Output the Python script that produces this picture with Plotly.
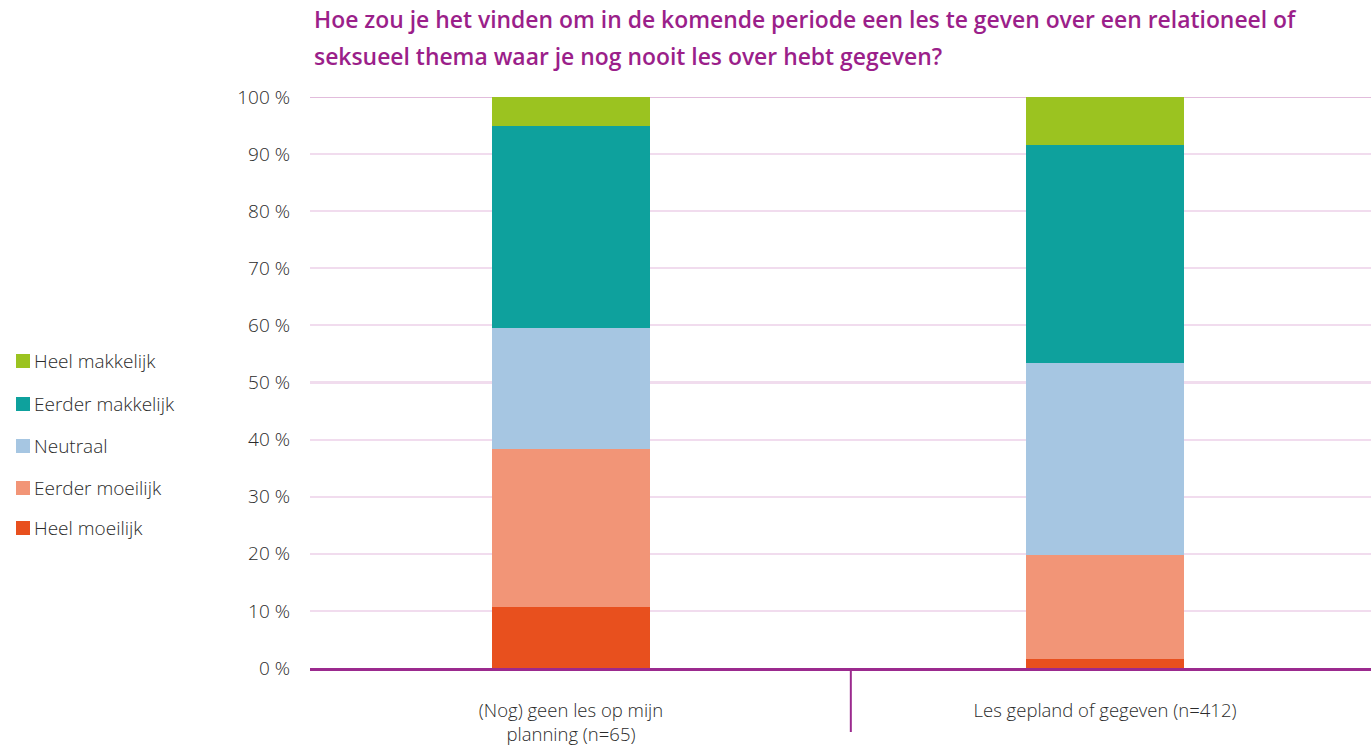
import plotly.graph_objects as go

categories = ["(Nog) geen les op mijn<br>planning (n=65)", "Les gepland of gegeven (n=412)"]
series_names = ["Heel moeilijk", "Eerder moeilijk", "Neutraal", "Eerder makkelijk", "Heel makkelijk"]
heel_moeilijk = [10.7, 1.6]
eerder_moeilijk = [27.7, 18.2]
neutraal = [21.2, 33.7]
eerder_makkelijk = [35.3, 38.1]
heel_makkelijk = [5.1, 8.4]
colors = ["#e8501e", "#f29577", "#a6c6e2", "#0ea19d", "#9bc320"]
tick_vals = [0, 10, 20, 30, 40, 50, 60, 70, 80, 90, 100]
tick_text = [f"{v} %" for v in tick_vals]
title_lines = ["Hoe zou je het vinden om in de komende periode een les te geven over een relationeel of",
               "seksueel thema waar je nog nooit les over hebt gegeven?"]

values = [heel_moeilijk, eerder_moeilijk, neutraal, eerder_makkelijk, heel_makkelijk]
xs = [0, 1]

W, H = 1371, 747
ML, MR, MT, MB = 310, 0, 97, 79
PW, PH = W - ML - MR, H - MT - MB

def px_x(px):
    return (px - ML) / PW

def px_y(py):
    return (H - MB - py) / PH

# category spacing: centres at 571 px and 1105 px
unit = 534.0
x_start = -(571 - ML) / unit
x_end = x_start + PW / unit

fig = go.Figure()
for name, vals, col in zip(series_names, values, colors):
    fig.add_trace(go.Bar(
        x=xs, y=vals, name=name, marker=dict(color=col, line=dict(width=0)),
        width=0.296, hoverinfo="y+name", showlegend=False,
    ))

font_family = "'Open Sans', Lato, sans-serif"
txt_color = "#2b2b2b"

fig.update_layout(
    barmode="stack",
    width=W, height=H,
    paper_bgcolor="white", plot_bgcolor="white",
    margin=dict(l=ML, r=MR, t=MT, b=MB, autoexpand=False),
    font=dict(family=font_family, size=17, color=txt_color),
    showlegend=False,
    xaxis=dict(
        range=[x_start, x_end], tickvals=xs, ticktext=categories,
        showgrid=False, zeroline=False, ticks="", automargin=False,
        showline=True, linecolor="#9b2a8e", linewidth=3,
        tickfont=dict(size=18.5, color=txt_color, weight=300),
        ticklabelstandoff=24,
    ),
    yaxis=dict(
        range=[0, 100], tickvals=tick_vals, ticktext=tick_text,
        showgrid=True, gridcolor="#f1dcee", gridwidth=1.5,
        zeroline=False, showline=False, ticks="", automargin=False,
        tickfont=dict(size=19, color=txt_color, weight=300),
        ticklabelstandoff=19,
    ),
    bargap=0,
)

# darker gridlines at 50 % and 100 %
for v in (50, 100):
    fig.add_shape(type="line", xref="paper", yref="y", x0=0, x1=1, y0=v, y1=v,
                  line=dict(color="#e2bcdc", width=2), layer="below")
# category separator
fig.add_shape(type="line", xref="x", yref="paper", x0=0.524, x1=0.524, y0=0, y1=px_y(732),
              line=dict(color="#9b2a8e", width=2))

# custom legend (top item = last series)
legend_y = [361, 404, 446, 488, 528]
for (name, col), ly in zip(list(zip(series_names, colors))[::-1], legend_y):
    fig.add_shape(type="rect", xref="paper", yref="paper",
                  x0=px_x(16), x1=px_x(30), y0=px_y(ly - 7), y1=px_y(ly + 7),
                  fillcolor=col, line=dict(width=0))
    fig.add_annotation(text=name, xref="paper", yref="paper", x=px_x(32), y=px_y(ly),
                       xanchor="left", yanchor="middle", showarrow=False,
                       font=dict(size=19, color=txt_color, weight=300))

for line, ypx in zip(title_lines, [20, 56]):
    fig.add_annotation(
        text=line, xref="paper", yref="paper",
        x=px_x(312), y=px_y(ypx),
        xanchor="left", yanchor="middle", align="left", showarrow=False,
        font=dict(family=font_family, size=22.9, color="#9b1f8a", weight=600),
    )

fig.write_html("out.html", config={"displayModeBar": False},
               post_script="document.body.style.margin='0px';")
